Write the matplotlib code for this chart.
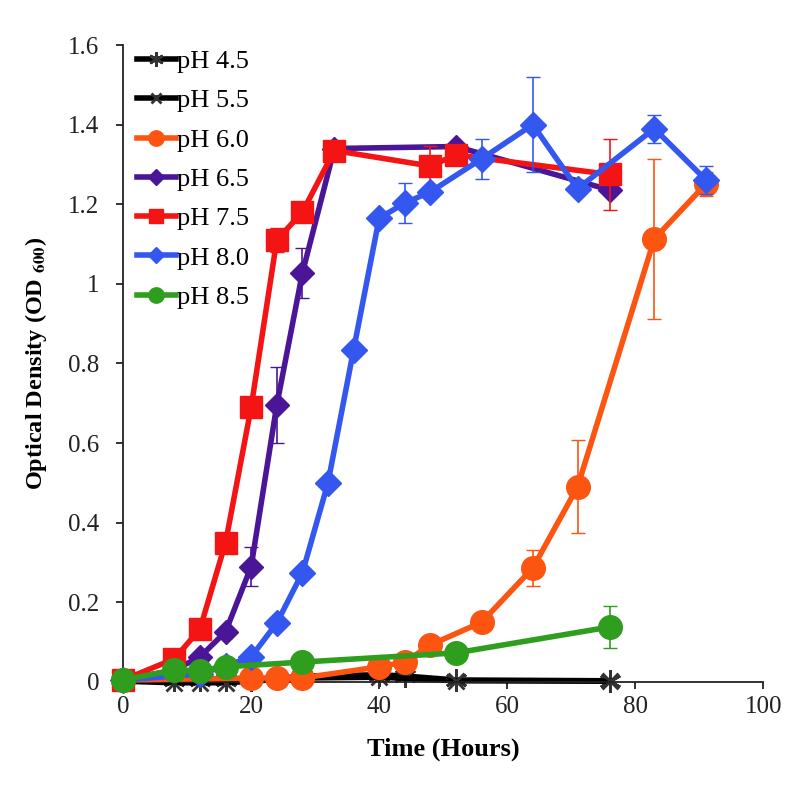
import numpy as np
import matplotlib.pyplot as plt

plt.rcParams['font.family'] = ['Liberation Serif', 'DejaVu Serif']
plt.rcParams['mathtext.fontset'] = 'stix'

# growth curves (hours, OD600)
t45 = [0, 8, 12, 16, 20, 24, 28, 40, 44, 52, 76]
od45 = [0.005, 0.004, 0.004, 0.004, 0.005, 0.008, 0.015, 0.018, 0.015, 0.005, 0.003]

t55 = [0, 8, 12, 16, 28, 40, 52, 76]
od55 = [0.002, -0.002, -0.002, -0.002, 0.01, 0.012, 0.003, 0.002]

t60 = [0, 20, 24, 28, 40, 44, 48, 56, 64, 71, 83, 91]
od60 = [0.005, 0.01, 0.01, 0.01, 0.038, 0.05, 0.093, 0.15, 0.286, 0.49, 1.113, 1.25]
err60 = [0, 0, 0, 0, 0, 0, 0, 0, 0.045, 0.117, 0.2, 0.03]

t65 = [0, 8, 12, 16, 20, 24, 28, 33, 52, 76]
od65 = [0.005, 0.03, 0.063, 0.126, 0.29, 0.695, 1.027, 1.34, 1.345, 1.236]
err65 = [0, 0, 0, 0, 0.048, 0.095, 0.063, 0, 0.01, 0.01]

t75 = [0, 8, 12, 16, 20, 24, 28, 33, 48, 52, 76]
od75 = [0.005, 0.058, 0.133, 0.35, 0.69, 1.11, 1.18, 1.335, 1.296, 1.324, 1.275]
err75 = [0, 0, 0, 0, 0, 0.03, 0, 0, 0.05, 0, 0.09]

t80 = [0, 12, 16, 20, 24, 28, 32, 36, 40, 44, 48, 56, 64, 71, 83, 91]
od80 = [0.005, 0.02, 0.04, 0.063, 0.148, 0.274, 0.5, 0.834, 1.165, 1.203, 1.231, 1.314, 1.40, 1.239, 1.39, 1.262]
err80 = [0, 0, 0, 0, 0, 0, 0, 0, 0, 0.05, 0, 0.05, 0.12, 0, 0.035, 0.035]

t85 = [0, 8, 12, 16, 28, 52, 76]
od85 = [0.005, 0.03, 0.028, 0.038, 0.05, 0.073, 0.138]
err85 = [0, 0, 0, 0, 0, 0, 0.053]

fig = plt.figure(figsize=(8.05, 8.01), dpi=100)
ax = fig.add_axes([0.153, 0.1486, 0.795, 0.7952])

lw = 4
h45, = ax.plot(t45, od45, color='k', lw=lw, marker=(6, 2, 0), ms=16, mew=2,
               mec='#333333', label='pH 4.5', zorder=2, clip_on=False)
h55, = ax.plot(t55, od55, color='k', lw=lw, marker='x', ms=12, mew=2,
               mec='#333333', label='pH 5.5', zorder=2, clip_on=False)
ax.errorbar(t60, od60, yerr=err60, color='#fb5511', lw=1.2, capsize=5, ls='none', zorder=3)
h60, = ax.plot(t60, od60, color='#fb5511', lw=lw, marker='o', ms=17,
               label='pH 6.0', zorder=3, clip_on=False)
ax.errorbar(t65, od65, yerr=err65, color='#4a1596', lw=1.2, capsize=5, ls='none', zorder=4)
h65, = ax.plot(t65, od65, color='#4a1596', lw=lw, marker='D', ms=12,
               label='pH 6.5', zorder=4, clip_on=False)
ax.errorbar(t75, od75, yerr=err75, color='#f41414', lw=1.2, capsize=5, ls='none', zorder=5)
h75, = ax.plot(t75, od75, color='#f41414', lw=lw, marker='s', ms=16,
               label='pH 7.5', zorder=5, clip_on=False)
ax.errorbar(t80, od80, yerr=err80, color='#3457f0', lw=1.2, capsize=5, ls='none', zorder=6)
h80, = ax.plot(t80, od80, color='#3457f0', lw=lw, marker='D', ms=13,
               label='pH 8.0', zorder=6, clip_on=False)
ax.errorbar(t85, od85, yerr=err85, color='#2f9e1e', lw=1.2, capsize=5, ls='none', zorder=7)
h85, = ax.plot(t85, od85, color='#2f9e1e', lw=lw, marker='o', ms=17,
               label='pH 8.5', zorder=7, clip_on=False)

ax.set_xlim(0, 100)
ax.set_ylim(0, 1.6)
ax.set_xticks(np.arange(0, 101, 20))
ax.set_yticks(np.arange(0, 1.61, 0.2))
ax.set_yticklabels(['0', '0.2', '0.4', '0.6', '0.8', '1', '1.2', '1.4', '1.6'])
ax.tick_params(labelsize=18, length=5, width=1.3, direction='out', colors='#222222')
ax.tick_params(axis='y', pad=12)
ax.tick_params(axis='x', pad=5)
for s in ['top', 'right']:
    ax.spines[s].set_visible(False)
for s in ['left', 'bottom']:
    ax.spines[s].set_linewidth(1.3)
    ax.spines[s].set_color('#222222')

ax.set_xlabel('Time (Hours)', fontsize=19, fontweight='bold', labelpad=14)
ax.set_ylabel(r'Optical Density (OD $_{\mathbf{600}}$)', fontsize=17.5, fontweight='bold', labelpad=14)

leg = ax.legend(handles=[h45, h55, h60, h65, h75, h80, h85], loc='upper left',
                bbox_to_anchor=(-0.015, 1.03), frameon=False, fontsize=19,
                handlelength=1.45, handletextpad=0.05, labelspacing=0.6,
                markerscale=0.65)

fig.savefig('out.png', dpi=100)
